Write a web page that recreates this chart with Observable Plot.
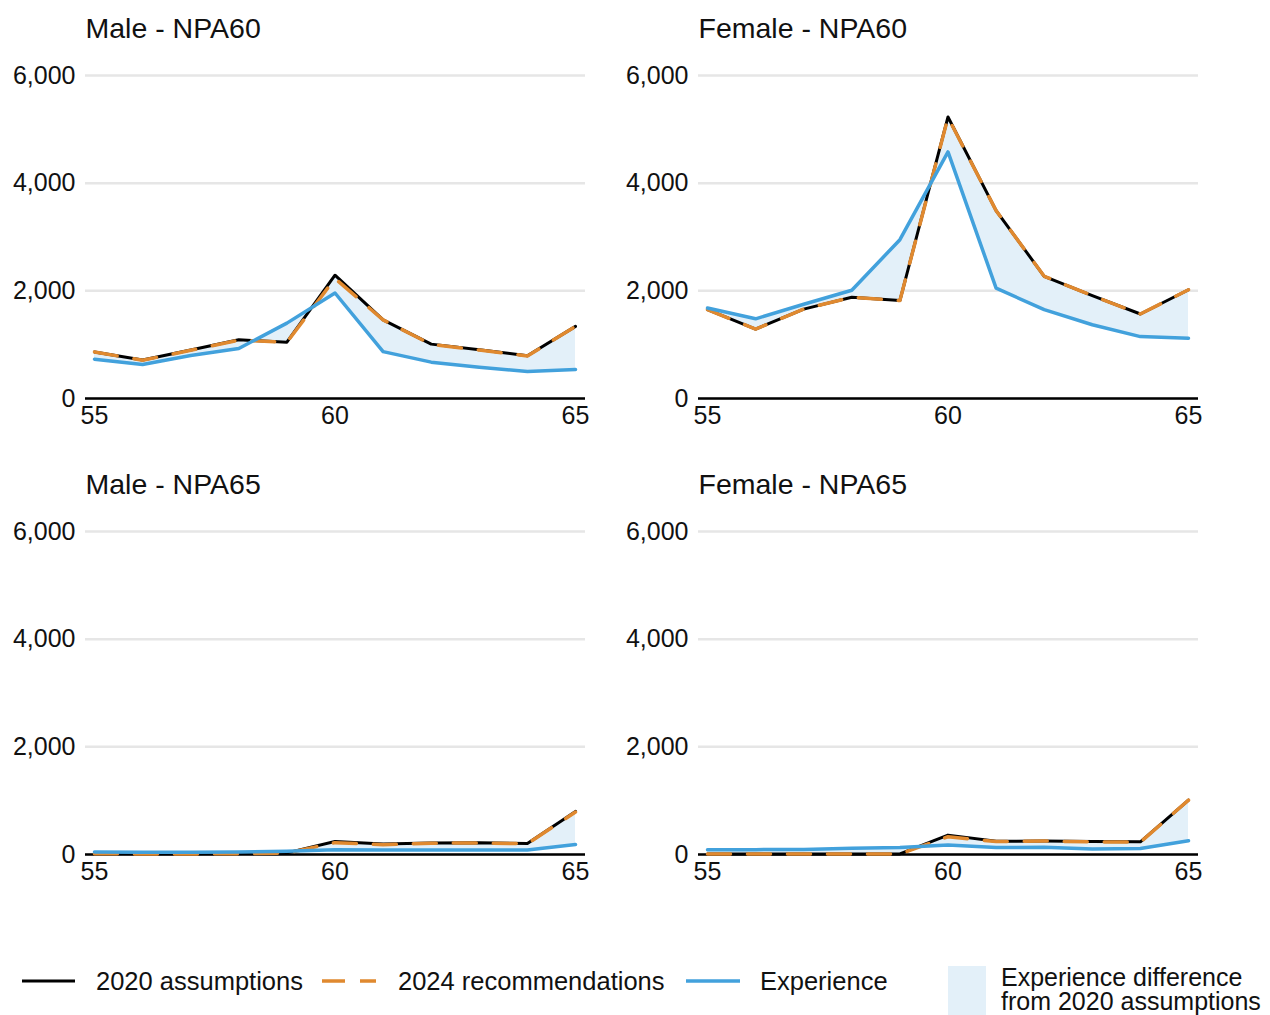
<!DOCTYPE html>
<html>
<head>
<meta charset="utf-8">
<script src="https://cdn.jsdelivr.net/npm/d3@7"></script>
<script src="https://cdn.jsdelivr.net/npm/@observablehq/plot@0.6"></script>
<style>
  html, body { margin: 0; padding: 0; background: #fff; }
  #root { position: relative; width: 1270px; height: 1015px; overflow: hidden; font-family: "Liberation Sans", Arial, sans-serif; }
  .panel { position: absolute; }
  #legend { position: absolute; left: 0; top: 950px; }
</style>
</head>
<body>
<div id="root"></div>
<script>
// ---- Data ----
const ages = [55, 56, 57, 58, 59, 60, 61, 62, 63, 64, 65];
const yTicks = [0, 2000, 4000, 6000];
const xTicks = [55, 60, 65];

const panelTitles = ["Male - NPA60", "Female - NPA60", "Male - NPA65", "Female - NPA65"];

const maleNPA60_2020 = [865, 715, 900, 1090, 1045, 2290, 1460, 1010, 905, 795, 1340];
const maleNPA60_2024 = [865, 710, 895, 1085, 1045, 2230, 1460, 1005, 900, 790, 1340];
const maleNPA60_exp  = [730, 630, 800, 930, 1400, 1960, 870, 675, 580, 500, 540];

const femaleNPA60_2020 = [1650, 1290, 1660, 1880, 1820, 5230, 3490, 2270, 1910, 1570, 2020];
const femaleNPA60_2024 = [1650, 1290, 1660, 1880, 1820, 5220, 3490, 2270, 1910, 1570, 2020];
const femaleNPA60_exp  = [1680, 1480, 1750, 2010, 2950, 4580, 2050, 1650, 1370, 1150, 1120];

const maleNPA65_2020 = [20, 15, 15, 20, 30, 240, 195, 215, 220, 205, 800];
const maleNPA65_2024 = [15, 10, 10, 15, 25, 220, 180, 210, 215, 200, 790];
const maleNPA65_exp  = [45, 40, 40, 45, 60, 90, 85, 85, 85, 85, 185];

const femaleNPA65_2020 = [10, 10, 10, 10, 10, 360, 245, 250, 240, 235, 1010];
const femaleNPA65_2024 = [10, 10, 10, 10, 10, 330, 240, 250, 235, 230, 1010];
const femaleNPA65_exp  = [90, 90, 95, 115, 130, 175, 130, 135, 100, 110, 255];

const legendLabels = ["2020 assumptions", "2024 recommendations", "Experience", "Experience difference", "from 2020 assumptions"];

// ---- Style ----
const FONT = '"Liberation Sans", Arial, sans-serif';
const C2020 = "#000000";
const C2024 = "#e0892f";
const CEXP = "#42a1dc";
const CFILL = "#e3f0f9";
const TEXT = "#111111";

function panel(title, a20, a24, exp) {
  const data = ages.map((age, i) => ({age, a2020: a20[i], a2024: a24[i], exp: exp[i]}));
  return Plot.plot({
    width: 620,
    height: 456,
    marginLeft: 85,
    marginRight: 35,
    marginTop: 75,
    marginBottom: 58,
    x: {domain: [55, 65], insetLeft: 9, insetRight: 10},
    y: {domain: [0, 6000]},
    style: {fontFamily: FONT, fontSize: "25px", color: TEXT, background: "transparent", overflow: "visible"},
    marks: [
      Plot.gridY(yTicks, {stroke: "#e6e6e6", strokeOpacity: 1, strokeWidth: 2.5}),
      Plot.areaY(data, {x: "age", y1: "exp", y2: "a2020", fill: CFILL, fillOpacity: 1}),
      Plot.ruleY([0], {stroke: "#000", strokeWidth: 2.5}),
      Plot.lineY(data, {x: "age", y: "a2020", stroke: C2020, strokeWidth: 3}),
      Plot.lineY(data, {x: "age", y: "a2024", stroke: C2024, strokeWidth: 3.5, strokeDasharray: "23,17"}),
      Plot.lineY(data, {x: "age", y: "exp", stroke: CEXP, strokeWidth: 3.5}),
      Plot.axisY(yTicks, {tickSize: 0, tickPadding: 10, tickFormat: d3.format(","), label: null, fontSize: 25, fill: TEXT}),
      Plot.axisX(xTicks, {tickSize: 0, tickPadding: 8, tickFormat: d => String(d), label: null, fontSize: 25, fill: TEXT}),
      Plot.text([title], {frameAnchor: "top-left", lineAnchor: "bottom", dy: -37.7, fontSize: 28.5, fill: TEXT, textAnchor: "start"})
    ]
  });
}

const root = document.getElementById("root");
const specs = [
  [panelTitles[0], maleNPA60_2020, maleNPA60_2024, maleNPA60_exp, 0, 0],
  [panelTitles[1], femaleNPA60_2020, femaleNPA60_2024, femaleNPA60_exp, 613, 0],
  [panelTitles[2], maleNPA65_2020, maleNPA65_2024, maleNPA65_exp, 0, 456],
  [panelTitles[3], femaleNPA65_2020, femaleNPA65_2024, femaleNPA65_exp, 613, 456]
];
for (const [t, a, b, e, left, top] of specs) {
  const wrap = document.createElement("div");
  wrap.className = "panel";
  wrap.style.left = left + "px";
  wrap.style.top = top + "px";
  wrap.appendChild(panel(t, a, b, e));
  root.appendChild(wrap);
}

// ---- Legend ----
const ns = "http://www.w3.org/2000/svg";
const lg = document.createElementNS(ns, "svg");
lg.setAttribute("id", "legend");
lg.setAttribute("width", 1270);
lg.setAttribute("height", 65);
lg.setAttribute("font-family", FONT);
function el(name, attrs, text) {
  const n = document.createElementNS(ns, name);
  for (const k in attrs) n.setAttribute(k, attrs[k]);
  if (text != null) n.textContent = text;
  lg.appendChild(n);
  return n;
}
el("line", {x1: 22, x2: 75, y1: 31, y2: 31, stroke: C2020, "stroke-width": 3});
el("text", {x: 96, y: 40, "font-size": 25.5, fill: TEXT}, legendLabels[0]);
el("line", {x1: 322, x2: 376, y1: 31, y2: 31, stroke: C2024, "stroke-width": 3.5, "stroke-dasharray": "23,15"});
el("text", {x: 398, y: 40, "font-size": 25.5, fill: TEXT}, legendLabels[1]);
el("line", {x1: 686, x2: 740, y1: 31, y2: 31, stroke: CEXP, "stroke-width": 3.5});
el("text", {x: 760, y: 40, "font-size": 25.5, fill: TEXT}, legendLabels[2]);
el("rect", {x: 948, y: 16, width: 38, height: 49, fill: CFILL});
el("text", {x: 1001, y: 35.5, "font-size": 25, fill: TEXT}, legendLabels[3]);
el("text", {x: 1001, y: 59.5, "font-size": 25, fill: TEXT}, legendLabels[4]);
root.appendChild(lg);
</script>
</body>
</html>
